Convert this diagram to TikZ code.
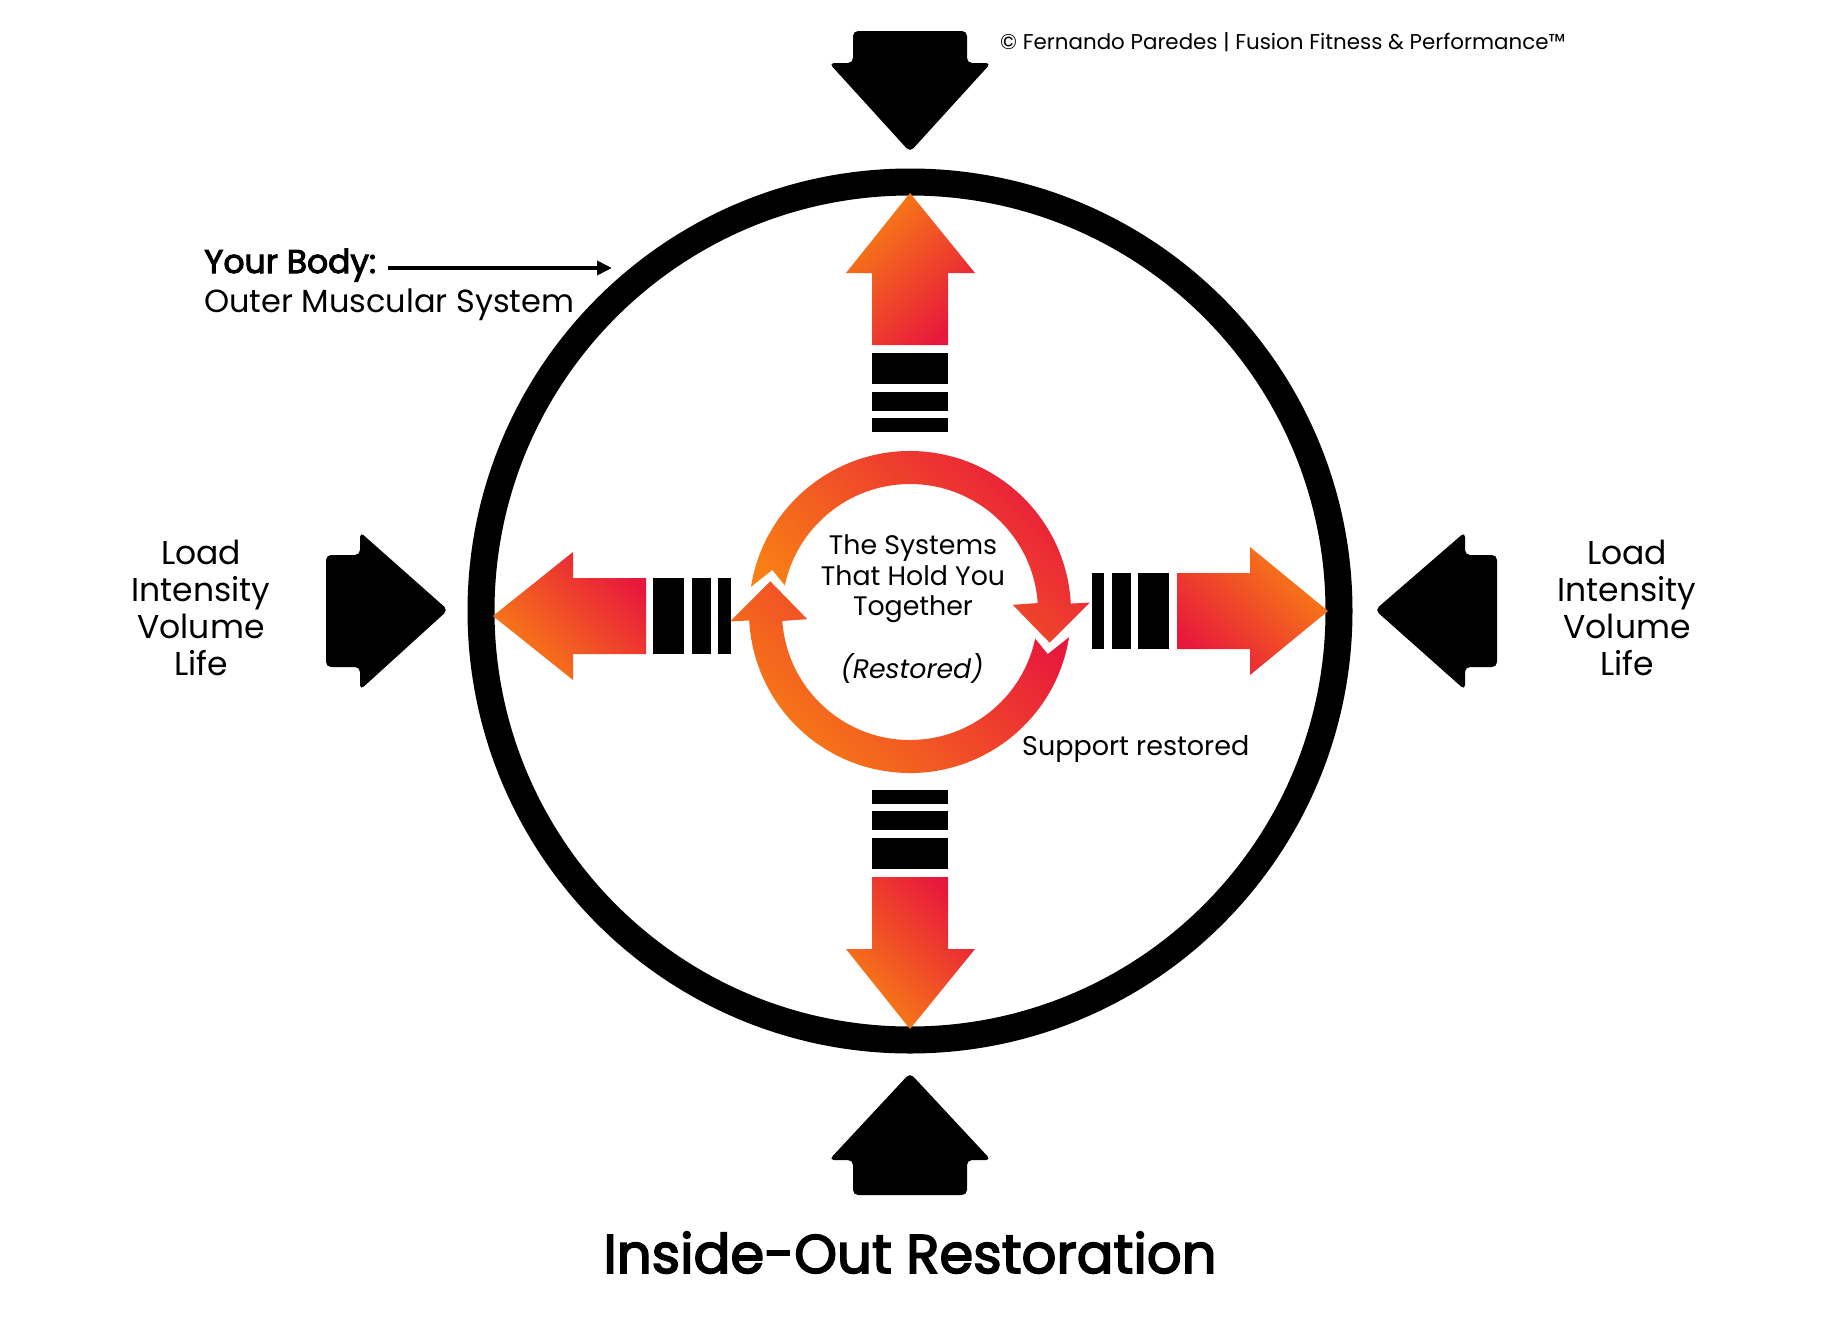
\documentclass[tikz,border=0pt]{standalone}
\usepackage{fontspec}
\setmainfont{Poppins}
\newfontfamily\semibold{Poppins}[FakeBold=3]
\usetikzlibrary{arrows.meta}
\definecolor{aorange}{RGB}{248,128,20}
\definecolor{ared}{RGB}{232,24,60}
\begin{document}
\begin{tikzpicture}[x=1pt,y=-1pt,
  blk/.style={fill=black, rounded corners=5pt},
  barbox/.style={fill=black},
  txt/.style={inner sep=0pt, text=black},
  lbl/.style={txt, font=\fontsize{33}{37}\selectfont, anchor=base},
  innertxt/.style={txt, font=\fontsize{26.8}{31}\selectfont, anchor=base},
  ringshade/.style={top color=ared, bottom color=aorange, shading angle=-45},
]
\useasboundingbox (0,0) rectangle (1845,1318);
\fill[white] (0,0) rectangle (1845,1318);

% outer circle
\coordinate (C) at (910,611);
\draw[line width=27pt] (C) circle[radius=429];

% black outside arrows
\fill[blk] (853,63) -- (853,31) -- (967,31) -- (967,63) -- (991,63) -- (910,152) -- (829,63) -- cycle;
\fill[blk] (853,1160) -- (853,1195) -- (967,1195) -- (967,1160) -- (991,1160) -- (910,1073) -- (829,1160) -- cycle;
\fill[blk] (360,555) -- (326,555) -- (326,667) -- (360,667) -- (360,690) -- (448,610) -- (360,532) -- cycle;
\fill[blk] (1465,555) -- (1497,555) -- (1497,667) -- (1465,667) -- (1465,690) -- (1375,610) -- (1465,532) -- cycle;

% orange arrows
\shade[top color=aorange, bottom color=ared, shading angle=45]
  (910,193) -- (975,273) -- (948,273) -- (948,345) -- (872,345) -- (872,273) -- (846,273) -- cycle;
\shade[top color=aorange, bottom color=ared, shading angle=135]
  (910,1029) -- (975,949) -- (948,949) -- (948,877) -- (872,877) -- (872,949) -- (846,949) -- cycle;
\shade[top color=aorange, bottom color=ared, shading angle=135]
  (493,616) -- (573,552) -- (573,578) -- (646,578) -- (646,654) -- (573,654) -- (573,680) -- cycle;
\shade[top color=aorange, bottom color=ared, shading angle=-45]
  (1328,611) -- (1250,547) -- (1250,573) -- (1177,573) -- (1177,649) -- (1250,649) -- (1250,675) -- cycle;

% bars
\fill[barbox] (872,353) rectangle (948,384);
\fill[barbox] (872,392) rectangle (948,411);
\fill[barbox] (872,418) rectangle (948,432);
\fill[barbox] (872,838) rectangle (948,869);
\fill[barbox] (872,811) rectangle (948,830);
\fill[barbox] (872,790) rectangle (948,804);
\fill[barbox] (653,578) rectangle (684,654);
\fill[barbox] (692,578) rectangle (711,654);
\fill[barbox] (718,578) rectangle (731,654);
\fill[barbox] (1138,573) rectangle (1169,649);
\fill[barbox] (1112,573) rectangle (1131,649);
\fill[barbox] (1092,573) rectangle (1104,649);

% central circular arrows
\begin{scope}[shift={(910,612)}]
\shade[ringshade] (189:161) arc[start angle=189, end angle=357, radius=161]
  -- (357:180) -- (12.4:143) -- (356:103) -- (356:128)
  arc[start angle=356, end angle=192, radius=128] -- (197:144) -- cycle;
\shade[ringshade] (9:161) arc[start angle=9, end angle=177, radius=161]
  -- (177:180) -- (192.4:143) -- (176:103) -- (176:128)
  arc[start angle=176, end angle=12, radius=128] -- (17:144) -- cycle;
\end{scope}

% texts
\node[txt, font=\fontsize{21.4}{25}\selectfont, anchor=base west] (copy) at (1000,49)
  {© Fernando Paredes | Fusion Fitness \& Performance™};
\node[txt, font=\semibold\fontsize{33}{40}\selectfont, anchor=base west] (yb) at (204,273) {Your Body:};
\node[txt, font=\fontsize{32}{40}\selectfont, anchor=base west] (oms) at (204,312) {Outer Muscular System};
\coordinate (bstart) at (388,268);
\coordinate (btip) at (612,268);
\draw[line width=4pt, -{Triangle[length=15pt,width=14pt]}] (bstart) -- (btip);

\node[lbl] (l1) at (201,564) {Load};
\node[lbl] (l2) at (201,601) {Intensity};
\node[lbl] (l3) at (201,638) {Volume};
\node[lbl] (l4) at (201,675) {Life};
\node[lbl] (r1) at (1627,564) {Load};
\node[lbl] (r2) at (1627,601) {Intensity};
\node[lbl] (r3) at (1627,638) {Volume};
\node[lbl] (r4) at (1627,675) {Life};

\node[innertxt] (s1) at (913,554) {The Systems};
\node[innertxt] (s2) at (913,585) {That Hold You};
\node[innertxt] (s3) at (913,615) {Together};
\node[innertxt, font=\itshape\fontsize{26.8}{31}\selectfont] (s4) at (912,678) {(Restored)};
\node[txt, font=\fontsize{27}{31}\selectfont, anchor=base west] (sup) at (1022,755) {Support restored};

\node[txt, font=\semibold\fontsize{54.5}{68}\selectfont, anchor=base] (title) at (910,1273) {Inside-Out Restoration};
\end{tikzpicture}
\end{document}
